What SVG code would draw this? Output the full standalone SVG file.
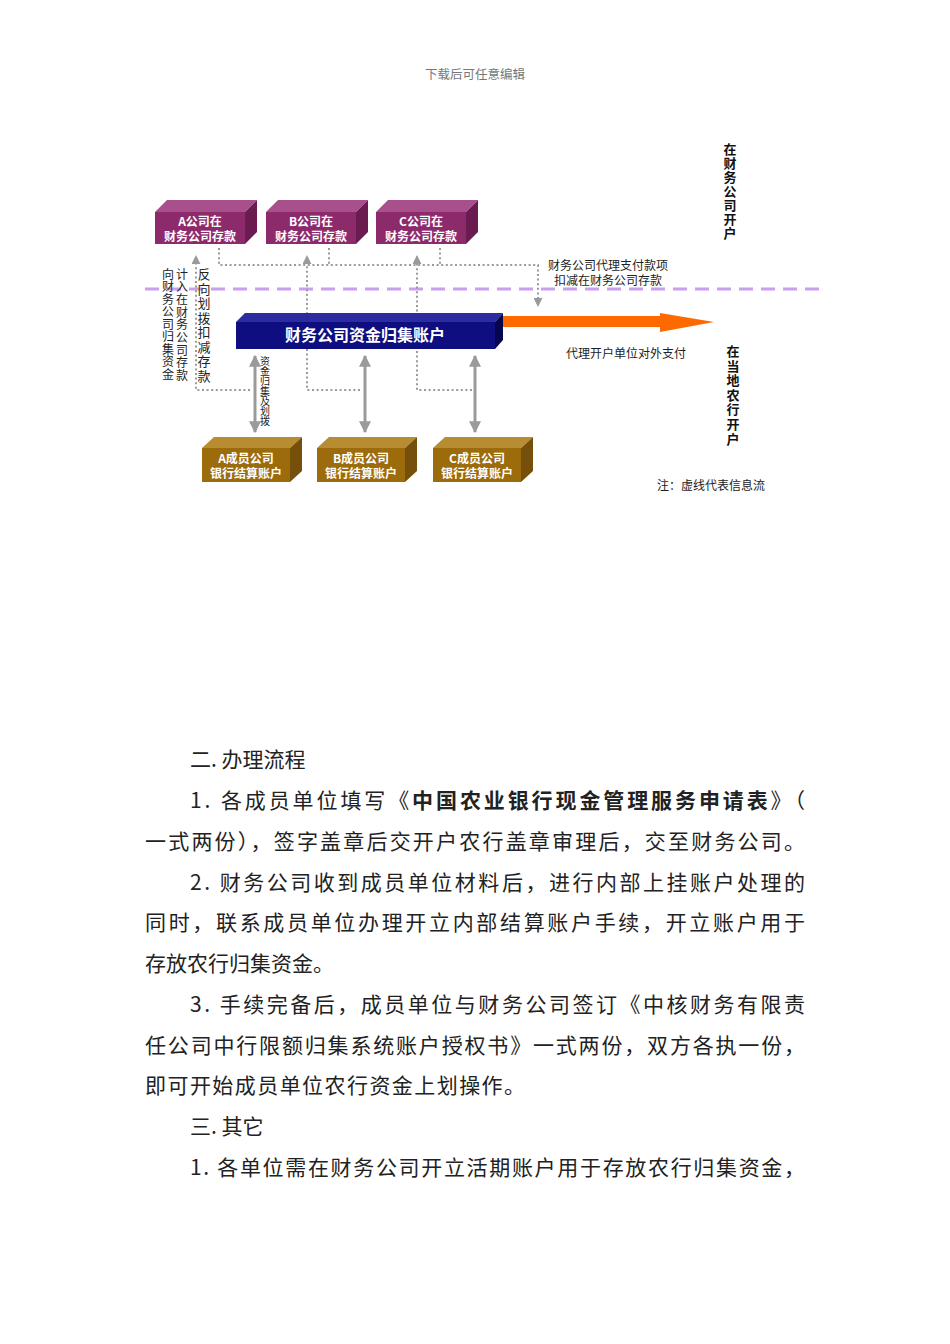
<svg xmlns="http://www.w3.org/2000/svg" width="950" height="1344" viewBox="0 0 950 1344">
<style>
text{font-family:"Noto Sans CJK SC","Liberation Sans",sans-serif;}
.hdr{font-size:12.5px;fill:#777;}
.bx{font-size:12px;fill:#fff;font-weight:bold;text-anchor:middle;}
.lbl{font-size:12px;fill:#222;}
.vt{font-size:12px;fill:#222;text-anchor:middle;}
.vt13{font-size:13px;fill:#222;text-anchor:middle;}
.vt10{font-size:10px;fill:#222;text-anchor:middle;}
.vb{font-size:13px;fill:#111;font-weight:bold;text-anchor:middle;}
.body{font-size:21px;fill:#222;}
.dot{fill:none;stroke:#9a9a9a;stroke-width:2;stroke-dasharray:2 2.6;}
.sol{fill:none;stroke:#9a9a9a;stroke-width:3;}
.pf{fill:#8c2a6c;}.pt{fill:#a8508c;}.ps{fill:#6a1c50;}
.gf{fill:#9c6b0c;}.gt{fill:#b88c30;}.gs{fill:#76500a;}
</style>
<defs>
<marker id="ah" viewBox="0 0 10 10" refX="9" refY="5" markerWidth="4" markerHeight="4" orient="auto-start-reverse" markerUnits="strokeWidth">
<path d="M0,0 L10,5 L0,10 z" fill="#9a9a9a"/>
</marker>
<marker id="ahd" viewBox="0 0 10 10" refX="9" refY="5" markerWidth="4.5" markerHeight="4.5" orient="auto" markerUnits="strokeWidth">
<path d="M0,0 L10,5 L0,10 z" fill="#9a9a9a"/>
</marker>
</defs>

<text class="hdr" x="475" y="79" text-anchor="middle">下载后可任意编辑</text>

<line x1="145" y1="289" x2="820" y2="289" stroke="#c8a0ee" stroke-width="3" stroke-dasharray="14 8"/>

<g id="connectors">
<polyline class="dot" points="250,390 196,390 196,256" marker-end="url(#ahd)"/>
<polyline class="dot" points="360,390 307,390 307,256" marker-end="url(#ahd)"/>
<polyline class="dot" points="472,390 417,390 417,256" marker-end="url(#ahd)"/>
<polyline class="dot" points="219,248 219,265 538,265 538,306" marker-end="url(#ahd)"/>
<line class="dot" x1="329" y1="248" x2="329" y2="265"/>
<line class="dot" x1="440" y1="248" x2="440" y2="265"/>
<line class="sol" x1="255" y1="356" x2="255" y2="432" marker-start="url(#ah)" marker-end="url(#ah)"/>
<line class="sol" x1="365" y1="356" x2="365" y2="432" marker-start="url(#ah)" marker-end="url(#ah)"/>
<line class="sol" x1="475" y1="356" x2="475" y2="432" marker-start="url(#ah)" marker-end="url(#ah)"/>
<path d="M503,316 L660,316 L660,313 L714,322 L660,332 L660,327 L503,327 z" fill="#ff6a00"/>
</g>

<g id="nodeA-fin">
<polygon class="pt" points="155,212 167,200 257,200 245,212"/>
<polygon class="ps" points="245,212 257,200 257,232 245,244"/>
<rect class="pf" x="155" y="212" width="90" height="32"/>
<text class="bx" x="200" y="226">A公司在</text>
<text class="bx" x="200" y="241">财务公司存款</text>
</g>
<g id="nodeB-fin">
<polygon class="pt" points="266,212 278,200 368,200 356,212"/>
<polygon class="ps" points="356,212 368,200 368,232 356,244"/>
<rect class="pf" x="266" y="212" width="90" height="32"/>
<text class="bx" x="311" y="226">B公司在</text>
<text class="bx" x="311" y="241">财务公司存款</text>
</g>
<g id="nodeC-fin">
<polygon class="pt" points="376,212 388,200 478,200 466,212"/>
<polygon class="ps" points="466,212 478,200 478,232 466,244"/>
<rect class="pf" x="376" y="212" width="90" height="32"/>
<text class="bx" x="421" y="226">C公司在</text>
<text class="bx" x="421" y="241">财务公司存款</text>
</g>

<g id="node-main">
<polygon points="236,322 245,313 503,313 495,322" fill="#2c2ca0"/>
<polygon points="495,322 503,313 503,340 495,349" fill="#06064f"/>
<rect x="236" y="322" width="259" height="27" fill="#0e0e80"/>
<text x="365" y="341" text-anchor="middle" font-size="16" font-weight="bold" fill="#fff">财务公司资金归集账户</text>
</g>

<g id="nodeA-bank">
<polygon class="gt" points="202,448 214,437 302,437 290,448"/>
<polygon class="gs" points="290,448 302,437 302,471 290,482"/>
<rect class="gf" x="202" y="448" width="88" height="34"/>
<text class="bx" x="246" y="463">A成员公司</text>
<text class="bx" x="246" y="478">银行结算账户</text>
</g>
<g id="nodeB-bank">
<polygon class="gt" points="317,448 329,437 417,437 405,448"/>
<polygon class="gs" points="405,448 417,437 417,471 405,482"/>
<rect class="gf" x="317" y="448" width="88" height="34"/>
<text class="bx" x="361" y="463">B成员公司</text>
<text class="bx" x="361" y="478">银行结算账户</text>
</g>
<g id="nodeC-bank">
<polygon class="gt" points="433,448 445,437 533,437 521,448"/>
<polygon class="gs" points="521,448 533,437 533,471 521,482"/>
<rect class="gf" x="433" y="448" width="88" height="34"/>
<text class="bx" x="477" y="463">C成员公司</text>
<text class="bx" x="477" y="478">银行结算账户</text>
</g>

<g id="labels">
<text class="lbl" x="608" y="270" text-anchor="middle">财务公司代理支付款项</text>
<text class="lbl" x="608" y="285" text-anchor="middle">扣减在财务公司存款</text>
<text class="lbl" x="626" y="358" text-anchor="middle">代理开户单位对外支付</text>
<text class="lbl" x="711" y="490" text-anchor="middle">注：虚线代表信息流</text>

<text class="vt" x="168" y="278.5"><tspan x="168">向</tspan><tspan x="168" dy="12.5">财</tspan><tspan x="168" dy="12.5">务</tspan><tspan x="168" dy="12.5">公</tspan><tspan x="168" dy="12.5">司</tspan><tspan x="168" dy="12.5">归</tspan><tspan x="168" dy="12.5">集</tspan><tspan x="168" dy="12.5">资</tspan><tspan x="168" dy="12.5">金</tspan></text>
<text class="vt" x="182" y="278.5"><tspan x="182">计</tspan><tspan x="182" dy="12.7">入</tspan><tspan x="182" dy="12.7">在</tspan><tspan x="182" dy="12.7">财</tspan><tspan x="182" dy="12.7">务</tspan><tspan x="182" dy="12.7">公</tspan><tspan x="182" dy="12.7">司</tspan><tspan x="182" dy="12.7">存</tspan><tspan x="182" dy="12.7">款</tspan></text>
<text class="vt13" x="204" y="279"><tspan x="204">反</tspan><tspan x="204" dy="14.5">向</tspan><tspan x="204" dy="14.5">划</tspan><tspan x="204" dy="14.5">拨</tspan><tspan x="204" dy="14.5">扣</tspan><tspan x="204" dy="14.5">减</tspan><tspan x="204" dy="14.5">存</tspan><tspan x="204" dy="14.5">款</tspan></text>
<text class="vt10" x="265" y="365"><tspan x="265">资</tspan><tspan x="265" dy="10">金</tspan><tspan x="265" dy="10">归</tspan><tspan x="265" dy="10">集</tspan><tspan x="265" dy="10">及</tspan><tspan x="265" dy="10">划</tspan><tspan x="265" dy="10">拨</tspan></text>
<text class="vb" x="730" y="154"><tspan x="730">在</tspan><tspan x="730" dy="14">财</tspan><tspan x="730" dy="14">务</tspan><tspan x="730" dy="14">公</tspan><tspan x="730" dy="14">司</tspan><tspan x="730" dy="14">开</tspan><tspan x="730" dy="14">户</tspan></text>
<text class="vb" x="733" y="356"><tspan x="733">在</tspan><tspan x="733" dy="14.6">当</tspan><tspan x="733" dy="14.6">地</tspan><tspan x="733" dy="14.6">农</tspan><tspan x="733" dy="14.6">行</tspan><tspan x="733" dy="14.6">开</tspan><tspan x="733" dy="14.6">户</tspan></text>
</g>

<g id="body-text">
<text class="body" x="190" y="767">二. 办理流程</text>
<text class="body" x="190" y="808" textLength="615" lengthAdjust="spacing">1. 各成员单位填写《<tspan font-weight="bold">中国农业银行现金管理服务申请表</tspan>》（</text>
<text class="body" x="145" y="849" textLength="660" lengthAdjust="spacing">一式两份），签字盖章后交开户农行盖章审理后，交至财务公司。</text>
<text class="body" x="190" y="890" textLength="615" lengthAdjust="spacing">2. 财务公司收到成员单位材料后，进行内部上挂账户处理的</text>
<text class="body" x="145" y="930" textLength="660" lengthAdjust="spacing">同时，联系成员单位办理开立内部结算账户手续，开立账户用于</text>
<text class="body" x="145" y="971">存放农行归集资金。</text>
<text class="body" x="190" y="1012" textLength="615" lengthAdjust="spacing">3. 手续完备后，成员单位与财务公司签订《中核财务有限责</text>
<text class="body" x="145" y="1053" textLength="660" lengthAdjust="spacing">任公司中行限额归集系统账户授权书》一式两份，双方各执一份，</text>
<text class="body" x="145" y="1093" textLength="380" lengthAdjust="spacing">即可开始成员单位农行资金上划操作。</text>
<text class="body" x="190" y="1134">三. 其它</text>
<text class="body" x="190" y="1175" textLength="615" lengthAdjust="spacing">1. 各单位需在财务公司开立活期账户用于存放农行归集资金，</text>
</g>
</svg>
